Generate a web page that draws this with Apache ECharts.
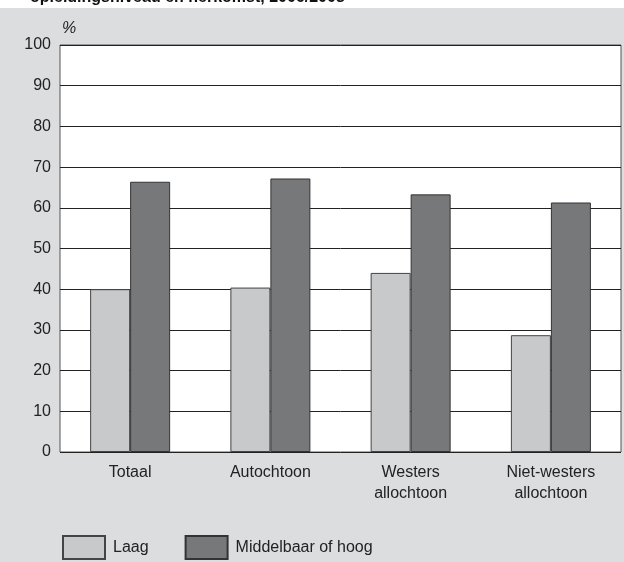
<!DOCTYPE html>
<html><head><meta charset="utf-8">
<script src="https://cdn.jsdelivr.net/npm/echarts@6/dist/echarts.min.js"></script>
<style>html,body{margin:0;padding:0;background:#fff}#c{width:624px;height:562px}</style>
</head><body><div id="c"></div>
<script>
const categories = ['Totaal', 'Autochtoon', 'Westers\nallochtoon', 'Niet-westers\nallochtoon'];
const laag = [40, 40.4, 44, 28.7];
const middelbaarHoog = [66.4, 67.2, 63.3, 61.3];
const seriesNames = ['Laag', 'Middelbaar of hoog'];
const yTicks = [0, 10, 20, 30, 40, 50, 60, 70, 80, 90, 100];

const chart = echarts.init(document.getElementById('c'));
const font = 'Liberation Sans, Arial, Helvetica, sans-serif';
chart.setOption({
  animation: false,
  backgroundColor: 'transparent',
  graphic: [
    {type: 'rect', shape: {x: 0, y: 8, width: 624, height: 554}, style: {fill: '#dcdddf'}, z: -10},
    {type: 'text', left: 30, top: -10, style: {text: 'opleidingsniveau en herkomst, 2006/2008', font: 'bold 16px ' + font, fill: '#111'}},
    {type: 'text', left: 62, top: 21, style: {text: '%', font: 'italic 16px ' + font, fill: '#222'}}
  ],
  grid: {left: 60, right: 3, top: 45, bottom: 110, show: true, backgroundColor: '#fff', borderColor: '#555', borderWidth: 1},
  legend: {
    left: 57, top: 530, itemWidth: 42, itemHeight: 23, itemGap: 36,
    icon: 'rect',
    textStyle: {fontFamily: font, fontSize: 16, color: '#222', padding: [8, 0, 0, 3]},
    data: seriesNames
  },
  xAxis: {
    type: 'category', data: categories,
    axisLine: {show: false}, axisTick: {show: false},
    axisLabel: {fontFamily: font, fontSize: 16, color: '#222', margin: 10, lineHeight: 21}
  },
  yAxis: {
    type: 'value', min: 0, max: 100, interval: 10,
    axisLine: {show: false}, axisTick: {show: false},
    splitLine: {lineStyle: {color: '#222', width: 1}},
    axisLabel: {fontFamily: font, fontSize: 16, color: '#222', margin: 9,
      formatter: v => yTicks.includes(v) ? String(v) : ''}
  },
  series: [
    {name: seriesNames[0], type: 'bar', data: laag, barWidth: 40, barGap: '0%',
      itemStyle: {color: '#c8c9cb', borderColor: '#444', borderWidth: 1}},
    {name: seriesNames[1], type: 'bar', data: middelbaarHoog, barWidth: 40,
      itemStyle: {color: '#77787a', borderColor: '#333', borderWidth: 1}}
  ]
});
</script></body></html>
